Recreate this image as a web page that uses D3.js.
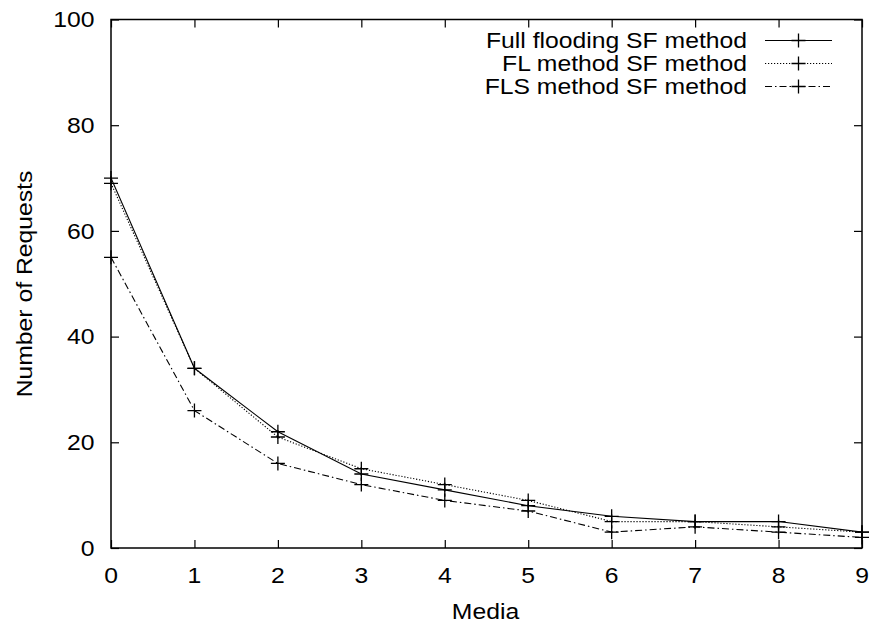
<!DOCTYPE html>
<html><head><meta charset="utf-8">
<script src="https://cdn.jsdelivr.net/npm/d3@7"></script>
<style>body{margin:0;background:#fff}svg{display:block}text{font-family:"Liberation Sans",Arial,sans-serif;fill:#000}</style>
</head><body>
<script>
const categories = [0,1,2,3,4,5,6,7,8,9];
const fullFlooding = [70,34,22,14,11,8,6,5,5,3];
const flMethod = [69,34,21,15,12,9,5,5,4,3];
const flsMethod = [55,26,16,12,9,7,3,4,3,2];
const seriesNames = ["Full flooding SF method","FL method SF method","FLS method SF method"];
const xTicks = [0,1,2,3,4,5,6,7,8,9];
const yTicks = [0,20,40,60,80,100];

const W=872,H=628;
const m={l:111,r:10,t:19.5,b:80};
const svg=d3.select("body").append("svg").attr("width",W).attr("height",H);
const x=d3.scaleLinear().domain([0,9]).range([m.l,W-m.r]);
const y=d3.scaleLinear().domain([0,100]).range([H-m.b,m.t]);
const fs=21.5, sx=1.15, tl=8;

function txt(parent,tx,ty,str,anchor,rot){
  return parent.append("text")
    .attr("transform",`translate(${tx},${ty})`+(rot?` rotate(${rot})`:"")+` scale(${sx},1)`)
    .attr("text-anchor",anchor).attr("font-size",fs).text(str);
}

const g=svg.append("g");
// frame
g.append("rect").attr("x",x(0)).attr("y",y(100)).attr("width",x(9)-x(0)).attr("height",y(0)-y(100))
 .attr("fill","none").attr("stroke","#000").attr("stroke-width",1.5);

// axes (tick marks inward on all four sides)
const xb=g.append("g").attr("transform",`translate(0,${y(0)})`).call(d3.axisBottom(x).tickValues(xTicks).tickSize(-tl).tickFormat(""));
const xt=g.append("g").attr("transform",`translate(0,${y(100)})`).call(d3.axisTop(x).tickValues(xTicks).tickSize(-tl).tickFormat(""));
const yl=g.append("g").attr("transform",`translate(${x(0)},0)`).call(d3.axisLeft(y).tickValues(yTicks).tickSize(-tl).tickFormat(""));
const yr=g.append("g").attr("transform",`translate(${x(9)},0)`).call(d3.axisRight(y).tickValues(yTicks).tickSize(-tl).tickFormat(""));
[xb,xt,yl,yr].forEach(a=>{a.select(".domain").remove();a.selectAll("line").attr("stroke","#000").attr("stroke-width",1.2);a.selectAll("text").remove();});

// tick labels
xTicks.forEach(t=>txt(svg,x(t),582.5,String(t),"middle"));
yTicks.forEach(t=>txt(svg,94.5,y(t)+7.6,String(t),"end"));

// axis titles
txt(svg,(x(0)+x(9))/2-1,619,"Media","middle");
txt(svg,31.5,284,"Number of Requests","middle",-90);

const dashes=[null,"1.2,1.8","7,3,1.5,3"];
const data=[fullFlooding,flMethod,flsMethod];
const line=d3.line().x((d,i)=>x(categories[i])).y(d=>y(d));
const plus=(sel,cx,cy)=>{sel.append("path").attr("d",`M${cx-7},${cy}H${cx+7}M${cx},${cy-7}V${cy+7}`).attr("stroke","#000").attr("stroke-width",1.3).attr("fill","none");};

data.forEach((s,k)=>{
  g.append("path").datum(s).attr("d",line).attr("fill","none").attr("stroke","#000").attr("stroke-width",1.1)
   .attr("stroke-dasharray",dashes[k]);
  s.forEach((v,i)=>plus(g,x(categories[i]),y(v)));
});

// legend
const ly=[40.5,63.5,86.5];
seriesNames.forEach((n,k)=>{
  txt(svg,747,ly[k]+7.6,n,"end");
  svg.append("line").attr("x1",765).attr("x2",832).attr("y1",ly[k]).attr("y2",ly[k]).attr("stroke","#000").attr("stroke-width",1.1).attr("stroke-dasharray",dashes[k]);
  plus(svg,798.5,ly[k]);
});
</script>
</body></html>
